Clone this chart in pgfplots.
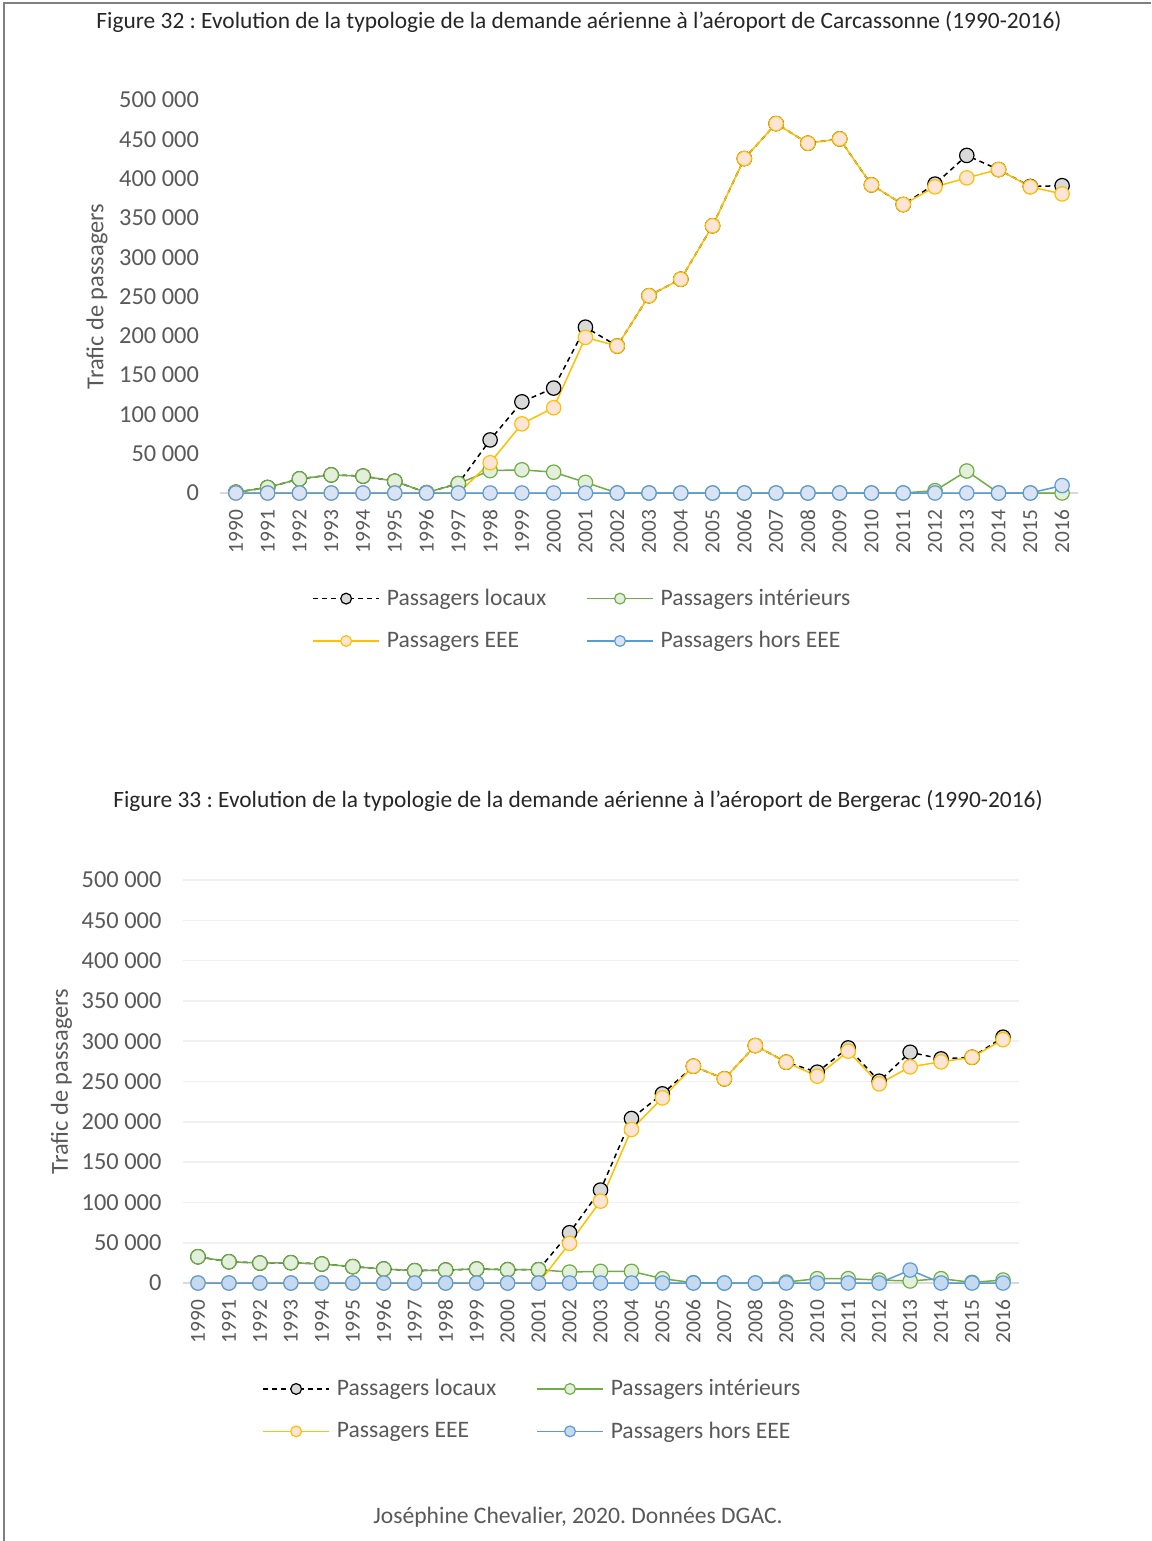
\documentclass[border=0pt]{standalone}
\usepackage{fontspec}
\setmainfont{Carlito}
\usepackage{pgfplots}
\pgfplotsset{compat=1.18}
\usepackage{pgfplotstable}
\frenchspacing

\definecolor{tgray}{HTML}{595959}
\definecolor{titlecol}{HTML}{262626}
\definecolor{axgray}{HTML}{D9D9D9}
\definecolor{gridgray}{HTML}{F0F0F0}
\definecolor{framegray}{HTML}{808080}
\definecolor{cgreen}{HTML}{70AD47}
\definecolor{fgreen}{HTML}{E2EFDA}
\definecolor{cyellow}{HTML}{FFC000}
\definecolor{fyellow}{HTML}{FCE4D6}
\definecolor{cblue}{HTML}{5B9BD5}
\definecolor{fblueA}{HTML}{DAE3F3}
\definecolor{fblueB}{HTML}{C5D9F1}
\definecolor{fgray}{HTML}{D9D9D9}

\newcommand{\xfs}{\fontsize{10.7}{12.8}\selectfont}
\newcommand{\yfs}{\fontsize{12.2}{14.6}\selectfont}
\newcommand{\lfs}{\fontsize{11.8}{14.2}\selectfont}
\newcommand{\tfs}{\fontsize{11.7}{14}\selectfont}

\pgfplotstableread{
year loc int eee hors
1990 1000 1000 0 0
1991 7000 7000 0 0
1992 18000 18000 0 0
1993 23000 23000 0 0
1994 21500 21500 0 0
1995 15000 15000 0 0
1996 500 500 0 0
1997 12000 12000 0 0
1998 67500 28500 38500 0
1999 116000 29500 88000 0
2000 133500 26500 108500 0
2001 211000 13500 198000 0
2002 187000 0 187000 0
2003 251000 0 251000 0
2004 272000 0 272000 0
2005 340000 0 340000 0
2006 425500 0 425500 0
2007 470000 0 470000 0
2008 445000 0 445000 0
2009 450500 0 450500 0
2010 392000 0 392000 0
2011 367000 0 367000 0
2012 393000 3000 389500 0
2013 429500 28000 401000 0
2014 411500 0 411500 0
2015 390000 0 389500 0
2016 391000 0 380500 9500
}\carcassonne

\pgfplotstableread{
year loc int eee hors
1990 32600 32600 0 0
1991 26400 26400 0 0
1992 24800 24800 0 0
1993 25200 25200 0 0
1994 23600 23600 0 0
1995 20300 20300 0 0
1996 17400 17400 0 0
1997 15300 15300 0 0
1998 16100 16100 0 0
1999 17400 17400 0 0
2000 16500 16500 0 0
2001 16500 16500 0 0
2002 62400 13600 49200 0
2003 115300 14500 101600 0
2004 204100 14500 190500 0
2005 234700 5400 229700 0
2006 269000 400 269000 0
2007 253300 0 253300 0
2008 294600 0 294600 0
2009 274000 1200 274000 0
2010 261600 5400 256600 0
2011 291700 5400 287600 0
2012 250400 3700 247100 0
2013 286300 2500 268200 16100
2014 278100 5400 274400 0
2015 280100 800 280100 0
2016 305000 3700 302000 0
}\bergerac

\pgfplotsset{
  common/.style={
    scale only axis,
    xmin=1989.5, xmax=2016.5, ymin=0, ymax=500000,
    xtick={1990,...,2016}, ytick={0,50000,...,500000},
    scaled y ticks=false,
    /pgf/number format/assume math mode=true,
    x tick label style={rotate=90, anchor=east, font=\xfs, text=tgray, /pgf/number format/1000 sep={}},
    y tick label style={font=\yfs, text=tgray, /pgf/number format/fixed, /pgf/number format/1000 sep={\ }},
    xticklabel shift=5pt,
    yticklabel shift=7pt,
    major tick length=0pt,
    axis x line*=bottom, axis y line*=left,
    x axis line style={draw=axgray, line width=0.9pt, -},
    y axis line style={draw=none},
    ylabel={Trafic de passagers},
    ylabel style={font=\yfs, text=tgray, anchor=center},
    every axis plot/.append style={line width=0.75pt, mark=*, mark size=3.6pt},
    legend columns=2,
    legend cell align=left,
    legend image code/.code={\draw[line width=0.75pt, mark repeat=2,mark phase=2,mark size=2.7pt] plot coordinates {(0pt,0pt) (16.5pt,0pt) (33pt,0pt)};},
    legend style={draw=none, fill=none, font=\lfs, text=tgray, anchor=north west,
      row sep=7.5pt,
      /tikz/every odd column/.append style={column sep=1.5pt},
      /tikz/every even column/.append style={column sep=18pt}},
  },
  sloc/.style={black, dash pattern=on 2.5pt off 2pt, mark options={solid, fill=fgray, draw=black, line width=0.6pt}},
  sint/.style={cgreen, mark options={solid, fill=fgreen, draw=cgreen, line width=0.6pt}},
  seee/.style={cyellow, mark options={solid, fill=fyellow, draw=cyellow, line width=0.6pt}},
}

\begin{document}
\begin{tikzpicture}
\path[use as bounding box] (0,0) rectangle (575.5pt,-770.5pt);
\draw[framegray, line width=0.7pt] (2pt,-770.5pt) -- (2pt,-1.5pt) -- (575.5pt,-1.5pt);

\node[font=\tfs, text=titlecol] at (289.5pt,-11pt) {Figure 32 : Evolution de la typologie de la demande aérienne à l’aéroport de Carcassonne (1990-2016)};
\node[font=\tfs, text=titlecol] at (289pt,-400.5pt) {Figure 33 : Evolution de la typologie de la demande aérienne à l’aéroport de Bergerac (1990-2016)};
\node[font=\lfs, text=tgray] at (289pt,-758.5pt) {Joséphine Chevalier, 2020. Données DGAC.};

\begin{axis}[common,
  at={(110pt,-246.5pt)}, anchor=south west,
  width=429pt, height=196.5pt,
  ylabel style={at={(axis description cs:-0.1434,0.5)}},
  legend style={at={(axis description cs:0.1002,-0.2227)}},
]
\addplot[sloc] table[x=year,y=loc] {\carcassonne};
\addlegendentry{Passagers locaux}
\addplot[sint] table[x=year,y=int] {\carcassonne};
\addlegendentry{Passagers intérieurs}
\addplot[seee] table[x=year,y=eee] {\carcassonne};
\addlegendentry{Passagers EEE}
\addplot[cblue, mark options={solid, fill=fblueA, draw=cblue, line width=0.6pt}] table[x=year,y=hors] {\carcassonne};
\addlegendentry{Passagers hors EEE}
\end{axis}

\begin{axis}[common,
  at={(91.25pt,-641.5pt)}, anchor=south west,
  width=418pt, height=201.5pt,
  ymajorgrids, grid style={gridgray, line width=0.8pt},
  ylabel style={at={(axis description cs:-0.1447,0.5)}},
  legend style={at={(axis description cs:0.0879,-0.218)}},
]
\addplot[sloc] table[x=year,y=loc] {\bergerac};
\addlegendentry{Passagers locaux}
\addplot[sint] table[x=year,y=int] {\bergerac};
\addlegendentry{Passagers intérieurs}
\addplot[seee] table[x=year,y=eee] {\bergerac};
\addlegendentry{Passagers EEE}
\addplot[cblue, mark options={solid, fill=fblueB, draw=cblue, line width=0.6pt}] table[x=year,y=hors] {\bergerac};
\addlegendentry{Passagers hors EEE}
\end{axis}
\end{tikzpicture}
\end{document}
